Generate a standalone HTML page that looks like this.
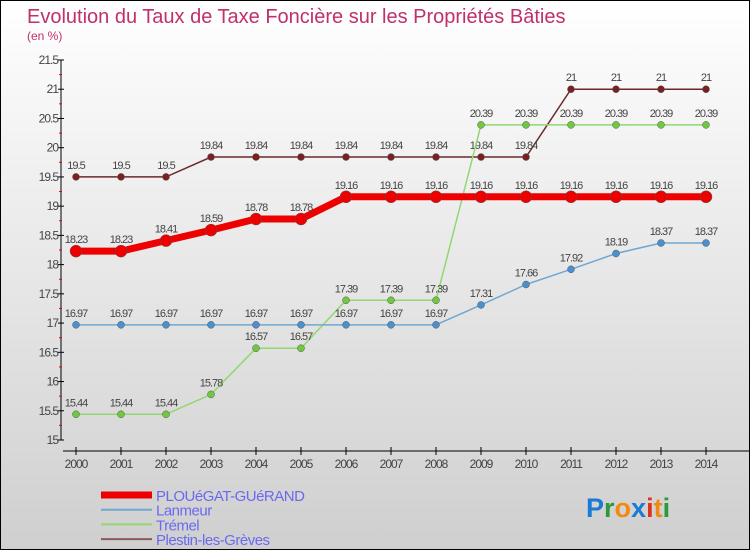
<!DOCTYPE html>
<html><head><meta charset="utf-8"><style>
body{margin:0}
#c{width:748px;height:548px;border:1px solid #000;background:linear-gradient(#fff,#cfcfcf);position:relative;font-family:"Liberation Sans",sans-serif;overflow:hidden}
</style></head><body>
<div id="c">
<svg id="s" width="748" height="548" style="position:absolute;left:0;top:0">
<text x="26" y="22" font-size="20" fill="#c0306a">Evolution du Taux de Taxe Foncière sur les Propriétés Bâties</text>
<text x="26" y="39" font-size="12" fill="#c0306a">(en %)</text>
<g id="axes"></g><g id="series"></g><g id="legend"></g>
<text x="585" y="516" font-size="27" font-weight="bold"><tspan fill="#1a7ad4">P</tspan><tspan fill="#2a9a3a">r</tspan><tspan fill="#f08a10">o</tspan><tspan fill="#1a7ad4">x</tspan><tspan fill="#e03020">i</tspan><tspan fill="#f08a10">t</tspan><tspan fill="#2a9a3a">i</tspan></text>
</svg>
</div>
<script>
const years=[2000,2001,2002,2003,2004,2005,2006,2007,2008,2009,2010,2011,2012,2013,2014];
const yTicks=[15,15.5,16,16.5,17,17.5,18,18.5,19,19.5,20,20.5,21,21.5];
const seriesNames=["PLOUéGAT-GUéRAND","Lanmeur","Trémel","Plestin-les-Grèves"];
const plouegat=[18.23,18.23,18.41,18.59,18.78,18.78,19.16,19.16,19.16,19.16,19.16,19.16,19.16,19.16,19.16];
const lanmeur=[16.97,16.97,16.97,16.97,16.97,16.97,16.97,16.97,16.97,17.31,17.66,17.92,18.19,18.37,18.37];
const tremel=[15.44,15.44,15.44,15.78,16.57,16.57,17.39,17.39,17.39,20.39,20.39,20.39,20.39,20.39,20.39];
const plestin=[19.5,19.5,19.5,19.84,19.84,19.84,19.84,19.84,19.84,19.84,19.84,21,21,21,21];
const NS="http://www.w3.org/2000/svg";
const xS=i=>75+i*45, yS=v=>439-(v-15)/6.5*380;
function mk(p,t,a){const e=document.createElementNS(NS,t);for(const k in a)e.setAttribute(k,a[k]);p.appendChild(e);return e;}
const ax=document.getElementById('axes');
const yl=mk(ax,'line',{x1:60,y1:yS(21.5),x2:60,y2:439,stroke:'#000'});


const xl=mk(ax,'line',{x1:62,y1:450,x2:748,y2:450,stroke:'#000'});


yTicks.forEach((v,i)=>{
 const y=yS(v);
 mk(ax,'line',{x1:57,y1:y,x2:63,y2:y,stroke:'#000'});
 if(i<yTicks.length-1)mk(ax,'line',{x1:58,y1:yS(v+0.25),x2:61,y2:yS(v+0.25),stroke:'#e00'});
 const t=mk(ax,'text',{x:57,y:y+4,'font-size':12,fill:'#444','text-anchor':'end','letter-spacing':'-1'});
 t.textContent=v;
 
 
});
years.forEach((yr,i)=>{
 mk(ax,'line',{x1:xS(i),y1:446,x2:xS(i),y2:454,stroke:'#000'});
 const t=mk(ax,'text',{x:xS(i),y:467,'font-size':12,fill:'#444','text-anchor':'middle','letter-spacing':'-1'});
 t.textContent=yr;
 
 
});
const sg=document.getElementById('series');
const defs=[[plestin,'#6a2a2a','#7a2020',1.5,3.5,'series-plestin'],[tremel,'#90d870','#70c840',1.5,3.5,'series-tremel'],[lanmeur,'#70a8d0','#4a90d0',1.5,3.5,'series-lanmeur'],[plouegat,'#ee0000','#ee0000',7,6,'series-plouegat']];
defs.forEach(([d,lc,pc,w,r,n])=>{
 const g=mk(sg,'g',{});
 
 
 mk(g,'polyline',{points:d.map((v,i)=>xS(i)+','+yS(v)).join(' '),fill:'none',stroke:lc,'stroke-width':w});
 d.forEach((v,i)=>{
  const c=mk(g,'circle',{cx:xS(i),cy:yS(v),r:r,fill:pc,stroke:'#555','stroke-width':0.5});
  
  
  const t=mk(g,'text',{x:xS(i),y:yS(v)-8,'font-size':11,fill:'#444','text-anchor':'middle','letter-spacing':'-1'});
  t.textContent=v;
  
  
 });
});
const lg=document.getElementById('legend');
const lc=[['#ee0000',7],['#70a8d0',2],['#90d870',2],['#8a5a5a',2]];
seriesNames.forEach((nm,i)=>{
 const y=494+i*14.7;
 const g=mk(lg,'g',{});
 
 
 mk(g,'line',{x1:100,y1:y,x2:151,y2:y,stroke:lc[i][0],'stroke-width':lc[i][1]});
 const t=mk(g,'text',{x:155,y:y+6,'font-size':15,fill:'#6a6af0','letter-spacing':'-0.5'});
 t.textContent=nm;
});
</script>
</body></html>
